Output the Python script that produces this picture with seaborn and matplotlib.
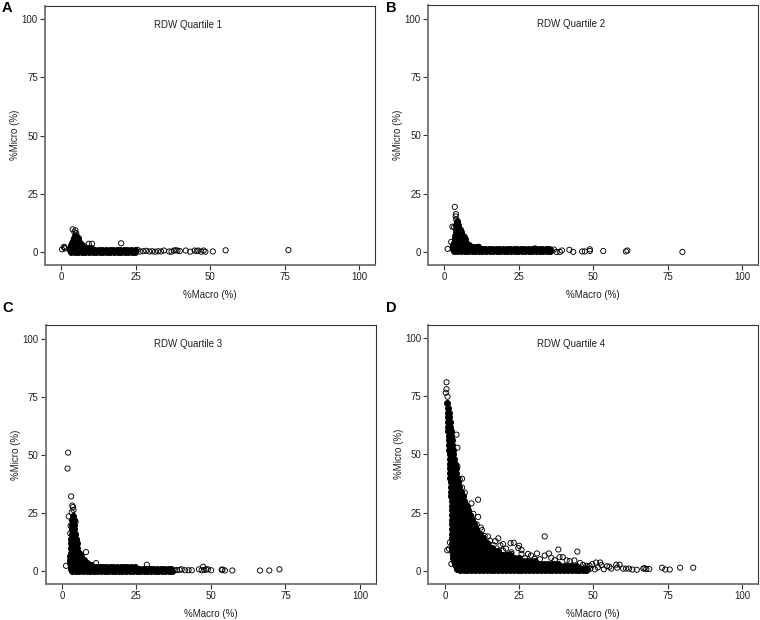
import matplotlib
matplotlib.use("Agg")
import matplotlib.pyplot as plt
import seaborn as sns

sns.set_style("white")
plt.rcParams['font.family'] = ['Liberation Sans', 'DejaVu Sans']

titles = ["RDW Quartile 1", "RDW Quartile 2", "RDW Quartile 3", "RDW Quartile 4"]
letters = ["A", "B", "C", "D"]
ticks = [0, 25, 50, 75, 100]

# ---------- open (outline) points ----------
a_open_x = [3.8,4.7,4.4,5.0,9.2,10.3,20.1,0.2,0.9,1.0,1.2,25.6,26.5,27.5,28.5,29.5,30.5,31.5,32.5,33.5,34.5,36.2,37,37.8,38.4,39,39.8,41.8,43.3,44.8,45.5,46,47,47.8,48.4,50.9,55.2,76.3]
a_open_y = [9.9,9.5,8.6,8.2,3.7,3.7,3.9,1.3,2.4,2.0,1.7,1.1,0.4,0.5,0.7,0.4,0.5,0.3,0.5,0.4,0.8,0.4,0.3,0.8,0.9,0.8,0.6,0.8,0.3,0.8,0.6,0.8,0.3,0.8,0.3,0.4,0.9,1.0]

b_open_x = [3.5,3.9,3.8,4.0,4.5,2.7,3.3,4.2,5.6,2.3,1.1,6.9,2.8,11.5,30.5,36,36.8,37.7,38.8,39.5,42,43.3,46.3,47.2,48.9,48.9,53.4,61,61.5,80]
b_open_y = [19.3,16.2,15.2,13.8,13.2,10.8,10.6,11.3,9.4,4.3,1.3,6.3,2.2,2.2,1.5,0.6,1.0,0,0,0.6,0.9,0,0.2,0.2,1.1,0.4,0.4,0.2,0.6,0]

c_open_x = [2.1,1.9,3.1,3.5,3.7,3.9,3.3,2.3,4.6,2.9,2.8,3.8,3.4,8.1,11.5,28.5,1.4,47.4,46,46.9,49,50.1,53.6,53.9,54.7,57.2,66.5,69.6,73,37.8,38.6,39.5,40.2,41.3,42.5,43.6,47.8,48.4]
c_open_y = [51,44.2,32.2,28.3,27.6,26.4,25.4,23.6,21.4,19.6,16.3,22,18,8.3,3.6,2.9,2.4,2,0.9,0.5,0.9,0.5,0.7,0.8,0.4,0.4,0.4,0.4,0.9,0.4,0.6,0.7,0.9,0.5,0.5,0.5,0.6,0.9]

d_open_x = [0.56,0.56,0.3,0.9,3.9,4.25,4.25,5.8,5.0,5.8,6.7,5.3,8.95,11.2,6.7,7,8.4,11.2,9.3,10.7,12.1,10.9,13.4,14.5,18,33.6,22.1,23.2,25,25.8,24.7,19.6,17,31,35,38.2,44.6,0.8,1.7,16.4,18.7,13.9,19.6,22.4,22.4,25.8,28,29,33.6,39.7,38.6,35.8,42,43.6,1.4,2.2,15.2,12.5,9.6,20.6,21.2,27,30.2,32,37,41,45.5,46.5,47.6,48.7,49.6,50.9,52.3,52.7,54.6,55.4,57.7,58.8,56,58,60,61,62,63.1,64.6,66.8,67.2,67.8,68.8,73.1,74.2,75.7,79.2,83.6,49,50.5,51.5,53.5,47.3]
d_open_y = [81,78,76.5,74.8,58.5,52.9,44.8,39.6,39.4,35.8,33.6,33.6,29,30.6,29.1,25,23.5,23.2,22,20,18.6,16.8,15,14.8,14,14.8,11.9,12.1,10.8,9,9.8,11.5,12.8,7.5,7.5,9.2,8.3,8.9,12.2,11,11,11.7,8.7,8,7.3,7.3,7.3,6.6,6.6,5.9,5.9,5.6,4.2,4.5,9.5,3,13,17.5,24.5,9.6,7,5.4,5.2,5,4.6,4.5,3.4,2.6,2.2,2.2,2.9,3.6,3.6,2.5,2,1.8,2.7,2.7,1,1.4,1,1,1,0.6,0.5,1,1.2,0.8,0.8,1.4,0.6,0.6,1.4,1.4,1.0,0.7,1.5,0.7,1.5]

# ---------- solid part of each cloud: one y per row, x list per row ----------
a_core_y = [7.0, 6.0, 5.0, 4.0, 3.0, 2.0, 1.0, 0.35]
a_core_x = [
    [4.6, 5.0],
    [4.2, 5.0, 5.6],
    [3.9, 4.7, 5.7],
    [3.5, 4.4, 5.3, 6.3],
    [3.1, 4.0, 4.9, 5.8, 6.8],
    [3.0, 4.0, 5.0, 6.0, 7.0, 8.0, 9.0, 10.0],
    [3.0, 4.2, 5.4, 6.6, 7.8, 9, 10.2, 11.4, 12.6, 13.8, 15, 16.2, 17.4, 18.6, 19.8, 21, 22.2, 23.4, 24.8],
    [3.3, 4.5, 5.7, 6.9, 8.1, 9.3, 10.5, 11.7, 12.9, 14.1, 15.3, 16.5, 17.7, 18.9, 20.1, 21.3, 22.5, 23.7, 24.9],
]

b_core_y = [13.0, 11.5, 10.0, 8.5, 7.0, 5.5, 4.0, 3.0, 2.0, 1.1, 0.35]
b_core_x = [
    [4.1],
    [4.0, 4.6],
    [3.9, 4.8],
    [3.8, 4.7, 5.5],
    [3.7, 4.6, 5.5, 6.1],
    [3.5, 4.4, 5.3, 6.2, 6.8],
    [3.3, 4.2, 5.1, 6.0, 6.9, 7.4],
    [3.0, 3.9, 4.8, 5.7, 6.6, 7.5, 8.4],
    [2.9, 4.0, 5.1, 6.2, 7.3, 8.4, 9.5, 10.6, 11.3],
    [2.9, 4.1, 5.3, 6.5, 7.7, 8.9, 10.1, 11.3, 12.5, 13.7, 14.9, 16.1, 17.3, 18.5, 19.7, 20.9, 22.1, 23.3, 24.5, 25.7, 26.9, 28.1, 29.3, 30.5, 31.7, 32.9, 34.1, 35.3],
    [3.2, 4.4, 5.6, 6.8, 8, 9.2, 10.4, 11.6, 12.8, 14, 15.2, 16.4, 17.6, 18.8, 20, 21.2, 22.4, 23.6, 24.8, 26, 27.2, 28.4, 29.6, 30.8, 32, 33.2, 34.4, 35.6],
]

c_core_y = [24.0, 22.0, 20.0, 18.0, 16.0, 14.0, 12.0, 10.0, 8.0, 6.5, 5.0, 3.8, 2.8, 1.9, 1.1, 0.35]
c_core_x = [
    [3.6],
    [3.5, 4.0],
    [3.4, 4.1],
    [3.3, 4.2],
    [3.3, 4.4],
    [3.2, 4.0, 4.8],
    [3.0, 4.0, 5.0],
    [3.0, 4.0, 5.1],
    [2.9, 3.9, 4.9, 5.8],
    [2.8, 3.8, 4.8, 5.8, 6.5],
    [2.8, 3.8, 4.8, 5.8, 6.8, 7.4],
    [2.8, 3.8, 4.8, 5.8, 6.8, 7.8, 8.4],
    [2.9, 3.9, 4.9, 5.9, 6.9, 7.9, 8.9, 9.9],
    [3.0, 4.1, 5.2, 6.3, 7.4, 8.5, 9.6, 10.7, 11.8, 12.8, 13.8, 14.8, 16, 17.2, 18.4, 19.8, 21, 22, 23.2, 24.5],
    [3.1, 4.3, 5.5, 6.7, 7.9, 9.1, 10.3, 11.5, 12.7, 13.9, 15.1, 16.3, 17.5, 18.7, 19.9, 21.1, 22.3, 23.5, 24.7, 25.9, 27.1, 28.3, 29.5, 30.7, 31.9, 33.1, 34.3, 35.5, 36.7],
    [3.5, 4.7, 5.9, 7.1, 8.3, 9.5, 10.7, 11.9, 13.1, 14.3, 15.5, 16.7, 17.9, 19.1, 20.3, 21.5, 22.7, 23.9, 25.1, 26.3, 27.5, 28.7, 29.9, 31.1, 32.3, 33.5, 34.7, 35.9, 37],
]

d_core_y = [72,70,68,66,64,62,60,58,56,54,52,50,48,46,44,42,40,38,36,34,32,30,28,26,24,22,20,18,16,14,12,10,8.5,7,5.5,4.2,3,1.9,1,0.35]
d_core_x = [
    [0.8],
    [0.9],
    [0.9, 1.3],
    [1.0, 1.5],
    [1.0, 1.6],
    [1.1, 1.8],
    [1.2, 2.0],
    [1.3, 2.1],
    [1.3, 2.3],
    [1.4, 2.5],
    [1.5, 2.7],
    [1.6, 2.9],
    [1.6, 2.4, 3.1],
    [1.7, 2.6, 3.4],
    [1.7, 2.7, 3.7],
    [1.8, 2.9, 3.9],
    [1.9, 3.0, 4.2],
    [2.0, 3.1, 4.4],
    [2.0, 3.2, 4.4, 4.9],
    [2.1, 3.3, 4.6, 5.4],
    [2.2, 3.5, 4.8, 6.0],
    [2.3, 3.5, 4.8, 6.0, 6.6],
    [2.3, 3.6, 5.0, 6.3, 7.3],
    [2.4, 3.7, 5.1, 6.5, 7.9],
    [2.5, 3.9, 5.2, 6.6, 8.0, 8.6],
    [2.5, 3.8, 5.2, 6.6, 8.0, 9.3],
    [2.5, 3.9, 5.3, 6.7, 8.2, 9.8],
    [2.5, 3.8, 5.2, 6.6, 8.0, 9.4, 10.6],
    [2.5, 3.9, 5.3, 6.7, 8.1, 9.5, 10.9, 11.8],
    [2.5, 3.8, 5.2, 6.6, 8.0, 9.4, 10.8, 12.2, 12.9],
    [2.5, 3.9, 5.3, 6.7, 8.1, 9.5, 10.9, 12.3, 13.7, 14.2],
    [2.5, 3.8, 5.2, 6.6, 8.0, 9.4, 10.8, 12.2, 13.6, 15.0, 15.8],
    [2.5, 3.8, 5.1, 6.4, 7.7, 9, 10.3, 11.6, 12.9, 14.2, 15.5, 16.8, 18],
    [2.6, 3.9, 5.2, 6.5, 7.8, 9.1, 10.4, 11.7, 13, 14.3, 15.6, 16.9, 18.2, 19.5, 20.8, 22],
    [2.7, 4, 5.3, 6.6, 7.9, 9.2, 10.5, 11.8, 13.1, 14.4, 15.7, 17, 18.3, 19.6, 20.9, 22.2, 23.5, 24.8],
    [3, 4.3, 5.6, 6.9, 8.2, 9.5, 10.8, 12.1, 13.4, 14.7, 16, 17.3, 18.6, 19.9, 21.2, 22.5, 23.8, 25.1, 26.4, 27.7, 29, 30.2],
    [3.4, 4.7, 6, 7.3, 8.6, 9.9, 11.2, 12.5, 13.8, 15.1, 16.4, 17.7, 19, 20.3, 21.6, 22.9, 24.2, 25.5, 26.8, 28.1, 29.4, 30.7, 32, 33.3, 34.6, 35.9, 37.2, 38.2],
    [3.8, 5.1, 6.4, 7.7, 9, 10.3, 11.6, 12.9, 14.2, 15.5, 16.8, 18.1, 19.4, 20.7, 22, 23.3, 24.6, 25.9, 27.2, 28.5, 29.8, 31.1, 32.4, 33.7, 35, 36.3, 37.6, 38.9, 40.2, 41.5, 42.8, 44],
    [4.2, 5.5, 6.8, 8.1, 9.4, 10.7, 12, 13.3, 14.6, 15.9, 17.2, 18.5, 19.8, 21.1, 22.4, 23.7, 25, 26.3, 27.6, 28.9, 30.2, 31.5, 32.8, 34.1, 35.4, 36.7, 38, 39.3, 40.6, 41.9, 43.2, 44.5, 45.8, 47, 48],
    [5, 6.3, 7.6, 8.9, 10.2, 11.5, 12.8, 14.1, 15.4, 16.7, 18, 19.3, 20.6, 21.9, 23.2, 24.5, 25.8, 27.1, 28.4, 29.7, 31, 32.3, 33.6, 34.9, 36.2, 37.5, 38.8, 40.1, 41.4, 42.7, 44, 45.3, 46.6, 47.6],
]

open_x = [a_open_x, b_open_x, c_open_x, d_open_x]
open_y = [a_open_y, b_open_y, c_open_y, d_open_y]
core_x = [a_core_x, b_core_x, c_core_x, d_core_x]
core_y = [a_core_y, b_core_y, c_core_y, d_core_y]

W, H = 760, 620
# axes boxes in pixels: left, right, top, bottom
boxes = [(45, 375, 5.5, 265), (428, 758, 5, 264.5), (45.5, 376, 325, 584), (428.5, 758, 324.5, 583.5)]
letter_pos = [(2, 12), (386, 12), (2, 312), (386, 312)]

fig = plt.figure(figsize=(W / 100, H / 100), dpi=100, facecolor="white")

for i, (l, r, t, b) in enumerate(boxes):
    ax = fig.add_axes([l / W, 1 - b / H, (r - l) / W, (b - t) / H])
    xs, ys = [], []
    for yv, row in zip(core_y[i], core_x[i]):
        for xv in row:
            xs.append(xv)
            ys.append(yv)
    sns.scatterplot(x=xs, y=ys, ax=ax, color="black", edgecolor="black", s=19, linewidth=0.65)
    sns.scatterplot(x=open_x[i], y=open_y[i], ax=ax, facecolor="none", edgecolor="black", s=14, linewidth=0.65)
    ax.set_xlim(-5.5, 105.4)
    ax.set_ylim(-5.4, 105.8)
    ax.set_xticks(ticks)
    ax.set_yticks(ticks)
    ax.tick_params(axis="both", length=3.6, width=0.8, color="#333333", labelsize=7, labelcolor="#222222", pad=1.5,
                   bottom=True, left=True)
    ax.set_xlabel("%Macro (%)", fontsize=7, color="#222222", labelpad=6)
    ax.set_ylabel("%Micro (%)", fontsize=7, color="#222222", labelpad=1)
    ax.text(42.5, 97.5, titles[i], fontsize=7, color="#222222", ha="center", va="center")
    for side, col, lw in [("left", "#707070", 1.3), ("bottom", "#707070", 1.3), ("top", "#333333", 0.8), ("right", "#333333", 0.8)]:
        ax.spines[side].set_visible(True)
        ax.spines[side].set_color(col)
        ax.spines[side].set_linewidth(lw)
    fig.text(letter_pos[i][0] / W, 1 - letter_pos[i][1] / H, letters[i], fontsize=10.5, fontweight="bold", color="black", ha="left", va="baseline")

fig.savefig("out.png", dpi=100)
